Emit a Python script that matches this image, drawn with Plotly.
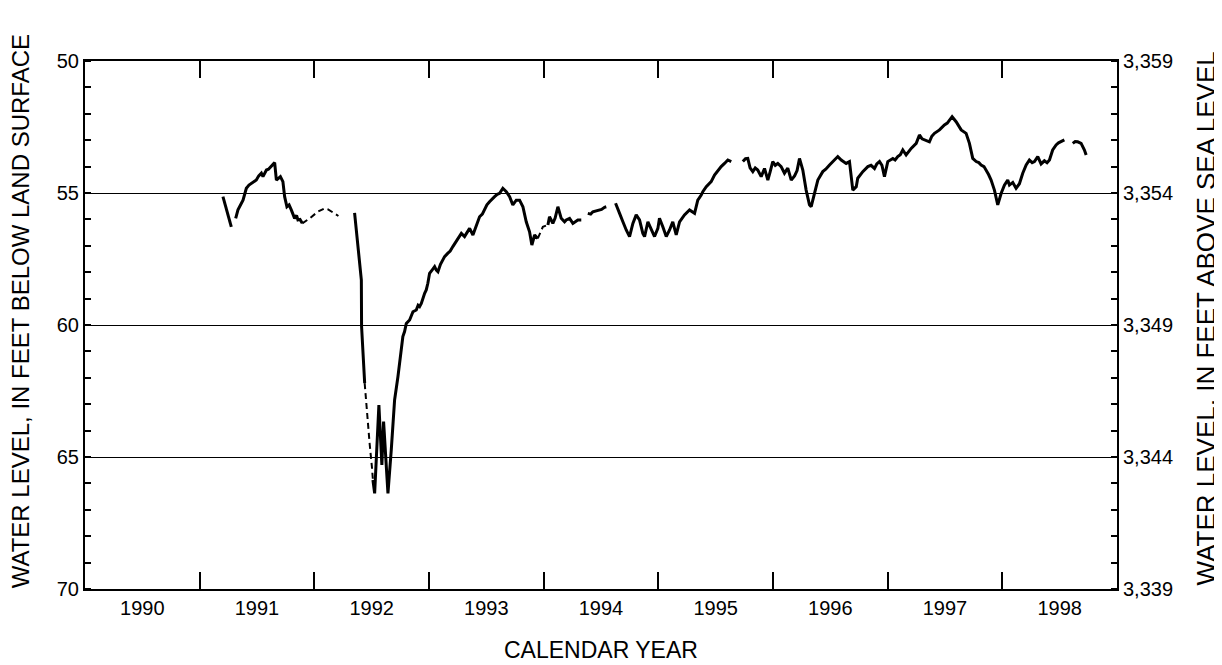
import plotly.graph_objects as go

# ---- data (decimal year, depth below land surface in feet) ----
solid_years = [
    1991.203, 1991.240, 1991.276, None,
    1991.314, 1991.334, 1991.378, 1991.407, 1991.430, 1991.451, 1991.475, 1991.494, 1991.515, 1991.538,
    1991.552, 1991.582, 1991.600, 1991.625, 1991.654, 1991.669, 1991.704, 1991.726, 1991.741, 1991.761,
    1991.780, 1991.799, 1991.815, 1991.828, 1991.845, 1991.857, 1991.875, 1991.895, None,
    1992.351, 1992.380, 1992.395, 1992.410, 1992.412, 1992.424, 1992.439, None,
    1992.511, 1992.526, 1992.563, 1992.589, 1992.604, 1992.642, 1992.671, 1992.700, 1992.729, 1992.759,
    1992.772, 1992.787, 1992.802, 1992.831, 1992.845, 1992.860, 1992.889, 1992.905, 1992.918, 1992.933,
    1992.962, 1992.976, 1992.990, 1993.005, 1993.030, 1993.049, 1993.064, 1993.078, 1993.100, 1993.121,
    1993.136, 1993.165, 1993.185, 1993.208, 1993.230, 1993.252, 1993.282, 1993.310, 1993.354, 1993.383,
    1993.412, 1993.441, 1993.465, 1993.485, 1993.505, 1993.528, 1993.550, 1993.572, 1993.595, 1993.616,
    1993.644, 1993.674, 1993.703, 1993.731, 1993.761, 1993.790, 1993.819, 1993.848, 1993.877, 1993.897,
    1993.921, 1993.949, None,
    1994.037, 1994.051, 1994.080, 1994.100, 1994.124, 1994.153, 1994.182, 1994.197, 1994.226, 1994.255,
    1994.298, 1994.328, None,
    1994.385, 1994.410, 1994.429, 1994.459, 1994.473, 1994.505, 1994.531, 1994.546, None,
    1994.627, 1994.647, 1994.662, 1994.691, 1994.705, 1994.720, 1994.749, 1994.778, 1994.807, 1994.836,
    1994.865, 1994.880, 1994.909, 1994.938, 1994.967, 1994.996, 1995.010, 1995.039, 1995.069, 1995.098,
    1995.126, 1995.156, 1995.185, 1995.228, 1995.272, 1995.316, 1995.344, 1995.374, 1995.388, 1995.418,
    1995.432, 1995.461, 1995.490, 1995.534, 1995.548, 1995.577, 1995.606, 1995.636, None,
    1995.737, 1995.760, 1995.780, 1995.800, 1995.824, 1995.845, 1995.867, 1995.897, 1995.926, 1995.955,
    1995.975, 1995.998, 1996.020, 1996.042, 1996.071, 1996.100, 1996.129, 1996.159, 1996.188, 1996.210,
    1996.231, 1996.260, 1996.289, 1996.318, 1996.333, 1996.362, 1996.391, 1996.434, 1996.460, 1996.493,
    1996.536, 1996.565, 1996.595, 1996.638, 1996.667, 1996.696, 1996.726, 1996.739, 1996.783, 1996.805,
    1996.827, 1996.855, 1996.885, 1996.905, 1996.929, 1996.950, 1996.972, 1997.001, 1997.045, 1997.065,
    1997.088, 1997.110, 1997.132, 1997.161, 1997.185, 1997.205, 1997.249, 1997.277, 1997.300, 1997.321,
    1997.364, 1997.385, 1997.408, 1997.452, 1997.475, 1997.495, 1997.520, 1997.539, 1997.562, 1997.597,
    1997.620, 1997.641, 1997.684, 1997.713, 1997.742, 1997.772, 1997.795, 1997.815, 1997.840, 1997.859,
    1997.880, 1997.902, 1997.931, 1997.960, 1997.990, 1998.018, 1998.047, 1998.062, 1998.091, 1998.120,
    1998.149, 1998.178, 1998.208, 1998.236, 1998.260, 1998.280, 1998.309, 1998.338, 1998.367, 1998.390,
    1998.411, 1998.439, 1998.469, 1998.490, 1998.513, 1998.541, None,
    1998.614, 1998.635, 1998.657, 1998.687, 1998.716, 1998.731,
]
solid_depth = [
    55.14, 55.75, 56.28, None,
    55.96, 55.64, 55.27, 54.82, 54.70, 54.63, 54.55, 54.51, 54.35, 54.25,
    54.38, 54.13, 54.10, 54.00, 53.85, 54.51, 54.38, 54.57, 55.14, 55.52,
    55.45, 55.64, 55.80, 55.96, 55.85, 56.02, 56.00, 56.15, None,
    55.75, 57.16, 57.66, 58.30, 60.06, 61.07, 62.20, None,
    65.87, 66.38, 63.03, 65.30, 63.66, 66.38, 64.73, 62.84, 61.96, 60.95,
    60.44, 60.25, 59.94, 59.81, 59.65, 59.50, 59.43, 59.25, 59.30, 59.18,
    58.80, 58.67, 58.42, 58.04, 57.90, 57.79, 57.92, 57.98, 57.70, 57.54,
    57.41, 57.28, 57.20, 57.03, 56.88, 56.72, 56.53, 56.65, 56.34, 56.59,
    56.28, 55.90, 55.80, 55.64, 55.45, 55.33, 55.25, 55.14, 55.05, 55.01,
    54.82, 54.95, 55.14, 55.45, 55.27, 55.27, 55.52, 56.09, 56.47, 56.97,
    56.59, 56.72, None,
    56.21, 55.90, 56.15, 55.95, 55.52, 55.96, 56.09, 56.02, 55.96, 56.15,
    56.02, 56.02, None,
    55.77, 55.80, 55.71, 55.68, 55.64, 55.62, 55.54, 55.52, None,
    55.39, 55.64, 55.77, 56.09, 56.21, 56.40, 56.65, 56.15, 55.83, 56.02,
    56.53, 56.65, 56.09, 56.34, 56.65, 56.34, 55.96, 56.28, 56.65, 56.40,
    56.09, 56.59, 56.09, 55.83, 55.64, 55.77, 55.27, 55.08, 54.95, 54.76,
    54.70, 54.57, 54.32, 54.07, 54.00, 53.88, 53.75, 53.81, None,
    53.81, 53.70, 53.69, 54.05, 54.19, 54.05, 54.13, 54.38, 54.07, 54.51,
    54.20, 53.81, 53.95, 53.88, 54.00, 54.25, 54.06, 54.51, 54.35, 54.15,
    53.69, 54.13, 54.89, 55.45, 55.52, 55.01, 54.51, 54.19, 54.10, 53.94,
    53.75, 53.62, 53.75, 53.88, 53.81, 54.89, 54.76, 54.44, 54.19, 54.10,
    54.00, 53.95, 54.07, 53.90, 53.81, 53.95, 54.38, 53.81, 53.69, 53.75,
    53.62, 53.55, 53.37, 53.56, 53.40, 53.31, 53.12, 52.80, 52.95, 52.99,
    53.06, 52.85, 52.74, 52.61, 52.50, 52.42, 52.35, 52.23, 52.11, 52.30,
    52.45, 52.61, 52.74, 53.12, 53.69, 53.81, 53.85, 53.94, 54.00, 54.13,
    54.30, 54.51, 54.89, 55.45, 55.01, 54.70, 54.51, 54.70, 54.60, 54.82,
    54.65, 54.25, 53.94, 53.75, 53.85, 53.81, 53.62, 53.90, 53.78, 53.85,
    53.75, 53.37, 53.18, 53.10, 53.06, 52.99, None,
    53.12, 53.05, 53.06, 53.12, 53.37, 53.56,
]

# estimated (dashed) portions
dashed_years = [1991.895, 1991.960, 1992.030, 1992.090, 1992.120, 1992.210, None,
                1992.439, 1992.447, 1992.467, 1992.482, 1992.502, 1992.511, None,
                1993.949, 1993.993, 1994.037]
dashed_depth = [56.15, 55.96, 55.71, 55.58, 55.62, 55.87, None,
                62.20, 62.70, 63.72, 64.48, 65.37, 65.87, None,
                56.72, 56.28, 56.21]

year_labels = ["1990", "1991", "1992", "1993", "1994", "1995", "1996", "1997", "1998"]
year_label_pos = [1990.5, 1991.5, 1992.5, 1993.5, 1994.5, 1995.5, 1996.5, 1997.5, 1998.5]
year_ticks = [1991, 1992, 1993, 1994, 1995, 1996, 1997, 1998]
depth_ticks = [50, 55, 60, 65, 70]
altitude_ticks = [3339, 3344, 3349, 3354, 3359]
land_surface_altitude = 3409  # altitude = 3409 - depth

FONT = "Liberation Sans, Arial, sans-serif"

fig = go.Figure()
fig.add_trace(go.Scatter(x=solid_years, y=solid_depth, mode="lines",
                         line=dict(color="black", width=3), connectgaps=False,
                         showlegend=False, hoverinfo="skip"))
fig.add_trace(go.Scatter(x=dashed_years, y=dashed_depth, mode="lines",
                         line=dict(color="black", width=2, dash="6px,4px"), connectgaps=False,
                         showlegend=False, hoverinfo="skip"))
# helper trace to activate right axis
fig.add_trace(go.Scatter(x=[1990, 1999],
                         y=[land_surface_altitude - 70, land_surface_altitude - 50],
                         yaxis="y2", mode="none", showlegend=False, hoverinfo="skip"))

fig.update_layout(
    width=1214, height=657,
    margin=dict(l=77, r=105, t=53, b=76, autoexpand=False),
    paper_bgcolor="white", plot_bgcolor="white",
    font=dict(family=FONT, size=20, color="black"),
    xaxis=dict(
        range=[1990, 1999], tickmode="array", tickvals=year_label_pos, ticktext=year_labels,
        ticks="", showgrid=False, zeroline=False,
        showline=True, linecolor="black", linewidth=2, mirror="allticks",
        tickfont=dict(family=FONT, size=20, color="black"),
        minor=dict(tickmode="array", tickvals=year_ticks, ticks="inside", ticklen=17,
                   tickwidth=2, tickcolor="black", showgrid=False),
    ),
    yaxis=dict(
        range=[70, 50], tickmode="array", tickvals=depth_ticks,
        ticks="", showgrid=True, gridcolor="black", gridwidth=1, zeroline=False,
        showline=True, linecolor="black", linewidth=2,
        tickfont=dict(family=FONT, size=20, color="black"),
        minor=dict(dtick=1, tick0=50, ticks="inside", ticklen=6, tickwidth=2,
                   tickcolor="black", showgrid=False),
    ),
    yaxis2=dict(
        overlaying="y", side="right",
        range=[land_surface_altitude - 70, land_surface_altitude - 50],
        tickmode="array", tickvals=altitude_ticks, tickformat=",d",
        ticks="", showgrid=False, zeroline=False,
        showline=True, linecolor="black", linewidth=2,
        tickfont=dict(family=FONT, size=20, color="black"),
        minor=dict(dtick=1, tick0=3339, ticks="inside", ticklen=6, tickwidth=2,
                   tickcolor="black", showgrid=False),
    ),
    annotations=[
        dict(text="WATER LEVEL, IN FEET BELOW LAND SURFACE", textangle=-90,
             xref="paper", yref="paper", x=-0.0625, y=0.525, xanchor="center", yanchor="middle",
             showarrow=False, font=dict(family=FONT, size=24, color="black")),
        dict(text="WATER LEVEL, IN FEET ABOVE SEA LEVEL", textangle=-90,
             xref="paper", yref="paper", x=1.0865, y=0.513, xanchor="center", yanchor="middle",
             showarrow=False, font=dict(family=FONT, size=26, color="black")),
        dict(text="CALENDAR YEAR", xref="paper", yref="paper", x=0.5, y=-0.115,
             xanchor="center", yanchor="middle", showarrow=False,
             font=dict(family=FONT, size=23, color="black")),
    ],
)

fig.write_html("out.html")
